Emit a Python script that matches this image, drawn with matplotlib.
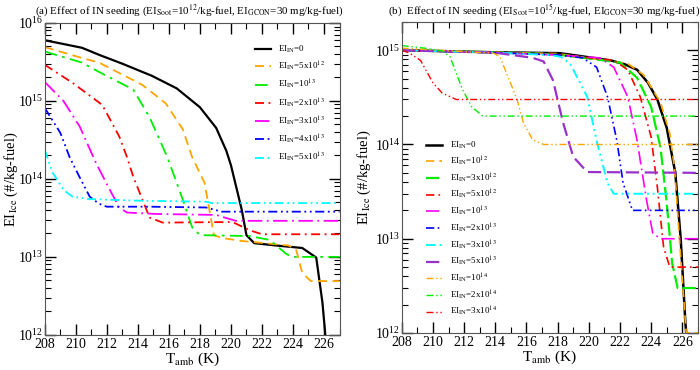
import numpy as np
import matplotlib
matplotlib.use("Agg")
import matplotlib.pyplot as plt
from matplotlib.ticker import LogLocator, MultipleLocator, NullFormatter

plt.rcParams["font.family"] = ["Liberation Serif", "DejaVu Serif"]
plt.rcParams["mathtext.fontset"] = "stix"

# ------------------------------------------------------------
# (a) EI_Soot = 1e12
# ------------------------------------------------------------
t_a_0 = [208, 210.4, 211.5, 213.0, 214.9, 216.5, 218.0, 219.05, 219.7, 220.0,
         220.7, 221.0, 221.5, 222.9, 224.6, 225.5, 225.9, 226.1, 226.3]
ei_a_0 = [6.0e15, 4.8e15, 3.9e15, 3.0e15, 2.1e15, 1.45e15, 8.3e14, 4.5e14, 2.3e14, 1.5e14,
          4.0e13, 1.9e13, 1.5e13, 1.4e13, 1.3e13, 9.8e12, 2.6e12, 9.3e11, 6.3e11]

t_a_5e12 = [208, 210.4, 211.5, 214.3, 215.8, 216.9, 217.5, 218.3, 218.7, 218.9,
            219.4, 220.7, 223.7, 224.2, 224.6, 225.15, 227]
ei_a_5e12 = [4.9e15, 3.55e15, 3.1e15, 1.6e15, 9.3e14, 4.3e14, 1.9e14, 8.9e13, 3.2e13, 1.9e13,
             1.75e13, 1.6e13, 1.4e13, 1.25e13, 6.2e12, 4.9e12, 4.9e12]

t_a_1e13 = [208, 210.4, 211.5, 213.7, 214.75, 215.9, 216.9, 217.5, 218.0, 221.2,
            222.5, 223.55, 223.9, 227]
ei_a_1e13 = [4.3e15, 3.1e15, 2.35e15, 1.4e15, 6.2e14, 1.9e14, 5.4e13, 2.4e13, 1.9e13, 1.85e13,
             1.65e13, 1.1e13, 1.0e13, 1.0e13]

t_a_2e13 = [208, 209.8, 211.7, 212.8, 213.3, 213.7, 214.3, 214.75, 215.6, 220.1,
            221.2, 222.0, 227]
ei_a_2e13 = [2.9e15, 1.7e15, 8.9e14, 3.5e14, 1.9e14, 1.07e14, 5.4e13, 3.2e13, 2.75e13, 2.8e13,
             2.2e13, 1.95e13, 1.95e13]

t_a_3e13 = [208, 209.2, 210.25, 211.3, 212.2, 212.8, 213.3, 215.2, 219.05, 220.3, 227]
ei_a_3e13 = [1.75e15, 1.0e15, 4.7e14, 1.6e14, 7.2e13, 4.3e13, 3.7e13, 3.55e13, 3.45e13, 2.9e13, 2.9e13]

t_a_4e13 = [208, 209.0, 209.6, 210.3, 210.9, 211.5, 212.0, 214.75, 218.4, 219.4, 227]
ei_a_4e13 = [8.1e14, 3.9e14, 1.9e14, 1.0e14, 5.9e13, 4.8e13, 4.4e13, 4.4e13, 4.3e13, 3.8e13, 3.8e13]

t_a_5e13 = [208, 208.5, 208.8, 209.2, 209.8, 210.9, 214.1, 218.4, 218.75, 227]
ei_a_5e13 = [2.35e14, 1.2e14, 9.8e13, 7.2e13, 5.9e13, 5.5e13, 5.25e13, 5.1e13, 4.9e13, 4.9e13]

# ------------------------------------------------------------
# (b) EI_Soot = 1e15
# ------------------------------------------------------------
t_b_0 = [208, 214, 218.15, 221.4, 222.3, 223.1, 223.8, 224.4, 225.0, 225.55, 225.9, 226.2, 226.3]
ei_b_0 = [1.0e15, 9.5e14, 9.3e14, 7.8e14, 7.1e14, 6.2e14, 4.5e14, 3.0e14, 1.5e14, 5.0e13,
          9.8e12, 1.26e12, 8e11]

t_b_1e12 = [208, 214, 218, 222.5, 223.5, 224.6, 225.2, 225.5, 225.9, 226.25, 227]
ei_b_1e12 = [1.0e15, 9.5e14, 9.2e14, 7.2e14, 5.5e14, 2.8e14, 1.3e14, 5.6e13, 6.3e12, 1.0e12, 1.0e12]

t_b_3e12 = [208, 214, 218, 222.0, 223.1, 224.0, 224.6, 225.0, 225.35, 225.7, 227]
ei_b_3e12 = [1.0e15, 9.5e14, 9.0e14, 7.4e14, 5.1e14, 2.5e14, 9.3e13, 2.4e13, 5.5e12, 3.0e12, 3.0e12]

t_b_5e12 = [208, 214, 218, 221.6, 222.5, 223.3, 224.0, 224.4, 224.8, 225.2, 227]
ei_b_5e12 = [1.0e15, 9.5e14, 9.0e14, 7.8e14, 6.2e14, 3.2e14, 1.2e14, 3.5e13, 8.1e12, 5.0e12, 5.0e12]

t_b_1e13 = [208, 214, 218, 220.7, 221.6, 222.5, 223.1, 223.7, 224.1, 224.6, 227]
ei_b_1e13 = [1.0e15, 9.4e14, 8.9e14, 8.3e14, 6.6e14, 3.2e14, 1.1e14, 2.6e13, 1.15e13, 1.0e13, 1.0e13]

t_b_2e13 = [208, 214, 218, 219.6, 220.5, 221.2, 221.8, 222.2, 222.8, 227]
ei_b_2e13 = [1.0e15, 9.4e14, 8.9e14, 8.3e14, 6.6e14, 3.2e14, 1.1e14, 3.9e13, 2.0e13, 2.0e13]

t_b_3e13 = [208, 214, 217.5, 218.2, 218.8, 219.9, 220.5, 221.2, 221.6, 227]
ei_b_3e13 = [1.0e15, 9.4e14, 8.9e14, 8.5e14, 7.2e14, 3.2e14, 1.1e14, 3.9e13, 3.0e13, 3.0e13]

t_b_5e13 = [208, 214, 216.4, 217.1, 217.7, 218.35, 219.0, 219.9, 227]
ei_b_5e13 = [1.0e15, 9.4e14, 8.3e14, 7.6e14, 4.8e14, 1.7e14, 7.4e13, 5.1e13, 5.0e13]

t_b_1e14 = [208, 213.9, 214.3, 214.9, 215.4, 215.8, 216.4, 217.1, 227]
ei_b_1e14 = [1.05e15, 9.3e14, 8.5e14, 4.8e14, 3.0e14, 1.7e14, 1.12e14, 1.0e14, 1.0e14]

t_b_2e14 = [208, 209.5, 210.6, 211.1, 211.9, 212.5, 213.2, 227]
ei_b_2e14 = [1.12e15, 1.05e15, 9.8e14, 8.5e14, 3.8e14, 2.5e14, 2.0e14, 2.0e14]

t_b_3e14 = [208, 208.5, 209.2, 210.0, 210.6, 211.5, 227]
ei_b_3e14 = [1.0e15, 9.3e14, 7.8e14, 4.5e14, 3.5e14, 3.0e14, 3.0e14]

labels_a = [r"EI$_{\rm IN}$=0", r"EI$_{\rm IN}$=5x10$^{12}$", r"EI$_{\rm IN}$=10$^{13}$",
            r"EI$_{\rm IN}$=2x10$^{13}$", r"EI$_{\rm IN}$=3x10$^{13}$",
            r"EI$_{\rm IN}$=4x10$^{13}$", r"EI$_{\rm IN}$=5x10$^{13}$"]
labels_b = [r"EI$_{\rm IN}$=0", r"EI$_{\rm IN}$=10$^{12}$", r"EI$_{\rm IN}$=3x10$^{12}$",
            r"EI$_{\rm IN}$=5x10$^{12}$", r"EI$_{\rm IN}$=10$^{13}$",
            r"EI$_{\rm IN}$=2x10$^{13}$", r"EI$_{\rm IN}$=3x10$^{13}$",
            r"EI$_{\rm IN}$=5x10$^{13}$", r"EI$_{\rm IN}$=10$^{14}$",
            r"EI$_{\rm IN}$=2x10$^{14}$", r"EI$_{\rm IN}$=3x10$^{14}$"]

# styles
DASH = (0, (5, 3))
DASH_DOT = (0, (5, 2.5, 1, 2.5))
LONG_DASH_DOT = (0, (8, 2.5, 1, 2.5))
DASH_DOT_DOT = (0, (5, 2, 1, 2, 1, 2))

curves_a = [
    (t_a_0, ei_a_0, "black", "-", 1.6),
    (t_a_5e12, ei_a_5e12, "#FFA500", DASH, 1.3),
    (t_a_1e13, ei_a_1e13, "#00EE00", (0, (7, 3, 1.5, 3)), 1.3),
    (t_a_2e13, ei_a_2e13, "#FF0000", DASH_DOT, 1.3),
    (t_a_3e13, ei_a_3e13, "#FF00FF", LONG_DASH_DOT, 1.3),
    (t_a_4e13, ei_a_4e13, "#0000FF", DASH_DOT_DOT, 1.3),
    (t_a_5e13, ei_a_5e13, "#00FFFF", DASH_DOT_DOT, 1.3),
]

curves_b = [
    (t_b_0, ei_b_0, "black", "-", 1.8),
    (t_b_1e12, ei_b_1e12, "#FFA500", DASH, 1.2),
    (t_b_3e12, ei_b_3e12, "#00EE00", (0, (6, 2)), 1.6),
    (t_b_5e12, ei_b_5e12, "#FF0000", DASH_DOT, 1.2),
    (t_b_1e13, ei_b_1e13, "#FF00FF", LONG_DASH_DOT, 1.2),
    (t_b_2e13, ei_b_2e13, "#0000FF", DASH_DOT_DOT, 1.2),
    (t_b_3e13, ei_b_3e13, "#00FFFF", DASH_DOT_DOT, 1.4),
    (t_b_5e13, ei_b_5e13, "#9932CC", (0, (6, 2.5)), 1.6),
    (t_b_1e14, ei_b_1e14, "#FFA500", DASH_DOT_DOT, 1.0),
    (t_b_2e14, ei_b_2e14, "#00EE00", DASH_DOT_DOT, 1.0),
    (t_b_3e14, ei_b_3e14, "#FF0000", DASH_DOT_DOT, 1.0),
]


def style_axes(ax, ymin, ymax):
    ax.set_yscale("log")
    ax.set_xlim(208, 227)
    ax.set_ylim(ymin, ymax)
    ax.xaxis.set_major_locator(MultipleLocator(2))
    ax.xaxis.set_minor_locator(MultipleLocator(1))
    ax.yaxis.set_major_locator(LogLocator(base=10, numticks=10))
    ax.yaxis.set_minor_locator(LogLocator(base=10, subs=np.arange(2, 10), numticks=10))
    ax.yaxis.set_minor_formatter(NullFormatter())
    ax.tick_params(which="both", direction="in", top=True, right=True, labelsize=10)
    ax.tick_params(which="major", length=8, width=1.0)
    ax.tick_params(which="minor", length=4, width=0.8)
    ax.tick_params(axis="x", pad=2)
    ax.tick_params(axis="y", pad=1)
    for s in ax.spines.values():
        s.set_color("#555555")
    ax.set_xlabel(r"T$_{\rm amb}$ (K)", fontsize=11, labelpad=0)
    ax.set_ylabel(r"EI$_{\rm Ice}$ (#/kg-fuel)", fontsize=10.5)


fig = plt.figure(figsize=(7, 3.7), dpi=100)
ax1 = fig.add_axes([0.064, 0.095, 0.421, 0.843])
ax2 = fig.add_axes([0.574, 0.100, 0.423, 0.841])

for t, ei, c, ls, lw in curves_a:
    ax1.plot(t, ei, color=c, linestyle=ls, linewidth=lw)
for t, ei, c, ls, lw in curves_b:
    ax2.plot(t, ei, color=c, linestyle=ls, linewidth=lw)

style_axes(ax1, 1e12, 1e16)
style_axes(ax2, 1e12, 2e15)
ax1.yaxis.set_label_coords(-0.085, 0.5)
ax2.yaxis.set_label_coords(-0.098, 0.5)

ax1.legend(labels_a, loc="upper left", bbox_to_anchor=(0.70, 0.945), frameon=False,
           fontsize=6.5, handlelength=1.8, labelspacing=0.55, handletextpad=0.8,
           borderaxespad=0)
ax2.legend(labels_b, loc="lower left", bbox_to_anchor=(0.07, 0.035), frameon=False,
           fontsize=6.5, handlelength=1.8, labelspacing=0.38, handletextpad=0.8,
           borderaxespad=0)

fig.text(0.05, 0.972, r"(a) Effect of IN seeding (EI$_{\rm Soot}$=10$^{12}$/kg-fuel, "
         r"EI$_{\rm GCON}$=30 mg/kg-fuel)", fontsize=7.9, va="center")
fig.text(0.554, 0.972, r"(b)  Effect of IN seeding (EI$_{\rm Soot}$=10$^{15}$/kg-fuel, "
         r"EI$_{\rm GCON}$=30 mg/kg-fuel)", fontsize=7.9, va="center")

fig.savefig("out.png", dpi=100)
